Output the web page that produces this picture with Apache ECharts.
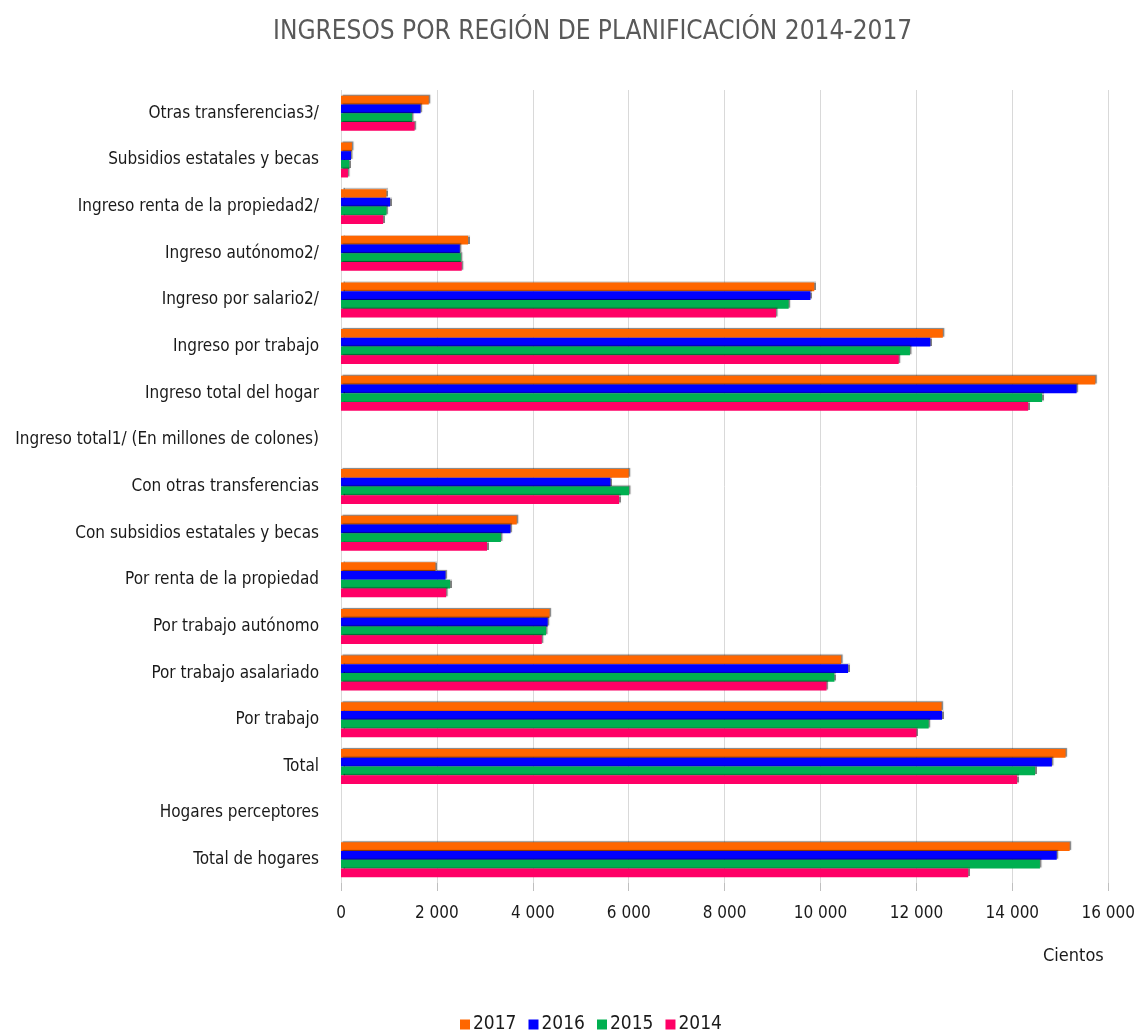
<!DOCTYPE html>
<html>
<head>
<meta charset="utf-8">
<script src="https://cdn.jsdelivr.net/npm/echarts@6/dist/echarts.min.js"></script>
<style>
html,body{margin:0;padding:0;background:#fff;}
#chart{width:1138px;height:1034px;}
</style>
</head>
<body>
<div id="chart"></div>
<script>
// Categories listed top to bottom as in the picture
const categories = [
  'Otras transferencias3/',
  'Subsidios estatales y becas',
  'Ingreso renta de la propiedad2/',
  'Ingreso autónomo2/',
  'Ingreso por salario2/',
  'Ingreso por trabajo',
  'Ingreso total del hogar',
  'Ingreso total1/ (En millones de colones)',
  'Con otras transferencias',
  'Con subsidios estatales y becas',
  'Por renta de la propiedad',
  'Por trabajo autónomo',
  'Por trabajo asalariado',
  'Por trabajo',
  'Total',
  'Hogares perceptores',
  'Total de hogares'
];
const years = ['2017', '2016', '2015', '2014'];
const values2017 = [1830, 228, 948, 2650, 9870, 12550, 15730, null, 6000, 3665, 1970, 4350, 10430, 12525, 15110, null, 15195];
const values2016 = [1660, 208, 1024, 2478, 9790, 12290, 15340, null, 5620, 3535, 2180, 4310, 10575, 12535, 14825, null, 14925];
const values2015 = [1480, 173, 948, 2498, 9335, 11865, 14620, null, 6005, 3335, 2275, 4275, 10290, 12255, 14475, null, 14575];
const values2014 = [1535, 145, 879, 2518, 9072, 11630, 14330, null, 5800, 3045, 2193, 4187, 10125, 12000, 14100, null, 13080];
const xTicks = [0, 2000, 4000, 6000, 8000, 10000, 12000, 14000, 16000];

const colors = {'2017': '#FF6600', '2016': '#0000FF', '2015': '#00B050', '2014': '#FF0066'};
const dataByYear = {'2017': values2017, '2016': values2016, '2015': values2015, '2014': values2014};
const FONT = '"Liberation Sans Narrow", "DejaVu Sans Condensed", "Roboto Condensed", sans-serif';

const chart = echarts.init(document.getElementById('chart'), null, {renderer: 'canvas'});

const series = years.map(y => ({
  name: y,
  type: 'bar',
  data: dataByYear[y],
  barGap: '0%',
  barCategoryGap: '25%',
  itemStyle: {
    color: colors[y],
    shadowColor: 'rgba(0,0,0,0.5)',
    shadowBlur: 1,
    shadowOffsetX: 1.5,
    shadowOffsetY: -1
  }
}));

chart.setOption({
  backgroundColor: '#ffffff',
  animation: false,
  color: years.map(y => colors[y]),
  title: [{
    text: 'INGRESOS POR REGIÓN DE PLANIFICACIÓN 2014-2017',
    left: 268,
    top: 14,
    textStyle: {fontFamily: FONT, fontSize: 26, fontWeight: 'normal', color: '#595959'}
  }, {
    text: 'Cientos',
    left: 1038,
    top: 942,
    textStyle: {fontFamily: FONT, fontSize: 18, fontWeight: 'normal', color: '#1a1a1a'}
  }],
  legend: {
    data: years,
    top: 1010,
    left: 455,
    itemWidth: 10,
    itemHeight: 10,
    itemGap: 12,
    icon: 'rect',
    textStyle: {fontFamily: FONT, fontSize: 19, color: '#1a1a1a', padding: [0, 0, 0, -2]}
  },
  grid: {left: 341, right: 26, top: 90, bottom: 151, containLabel: false},
  xAxis: {
    type: 'value',
    min: 0,
    max: 16000,
    interval: 2000,
    axisLine: {show: false},
    axisTick: {show: true, length: 8, lineStyle: {color: '#bfbfbf'}},
    splitLine: {show: true, lineStyle: {color: '#d9d9d9', width: 1}},
    axisLabel: {
      margin: 22,
      fontFamily: FONT,
      fontSize: 17,
      color: '#1a1a1a',
      formatter: v => xTicks.includes(v) ? String(v).replace(/\B(?=(\d{3})+(?!\d))/g, ' ') : ''
    }
  },
  yAxis: {
    type: 'category',
    data: categories,
    inverse: true,
    axisLine: {show: false},
    axisTick: {show: false},
    axisLabel: {margin: 22, fontFamily: FONT, fontSize: 17, color: '#1a1a1a'}
  },
  series: series
});
</script>
</body>
</html>
